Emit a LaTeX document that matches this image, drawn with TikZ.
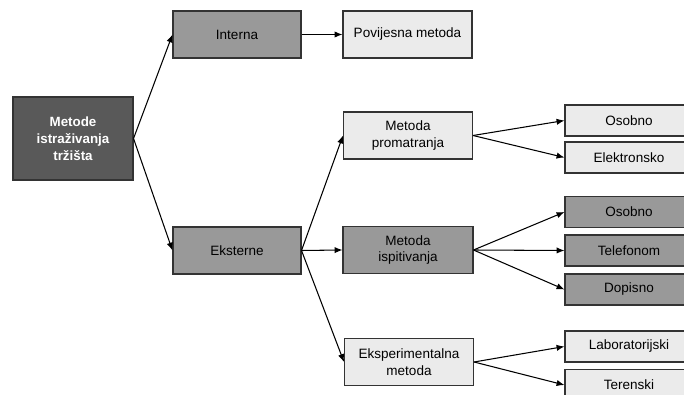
\documentclass[tikz,border=0pt]{standalone}
\usepackage{fontspec}
\setmainfont{Liberation Sans}
\usepackage{tikz}
\usetikzlibrary{arrows.meta}

\definecolor{rootgray}{HTML}{595959}
\definecolor{midgray}{HTML}{999999}
\definecolor{lightgray}{HTML}{EBEBEB}

\tikzset{
  box/.style={draw=black!80, line width=0.6pt, inner sep=0pt, align=center,
    font=\fontsize{7.7}{9.5}\selectfont},
  rootbox/.style={box, fill=rootgray, text=white, font=\fontsize{7.6}{9.6}\selectfont\bfseries,
    minimum width=2.4cm, minimum height=1.66cm},
  midbox/.style={box, fill=midgray, minimum width=2.56cm, minimum height=0.94cm},
  lightbox/.style={box, fill=lightgray, minimum width=2.58cm, minimum height=0.94cm},
  leafmid/.style={box, fill=midgray, minimum width=2.56cm, minimum height=0.62cm},
  leaflight/.style={box, fill=lightgray, minimum width=2.56cm, minimum height=0.62cm},
  link/.style={-{Latex[length=4.5pt,width=3.6pt]}, line width=0.6pt}
}

\begin{document}
\begin{tikzpicture}[x=0.02cm, y=-0.02cm]
	\path[use as bounding box, clip] (0,0) rectangle (684,395);

	\node[rootbox]                 (root) at (73,138.5) {Metode\\istraživanja\\tržišta};
	\node[midbox]                 (int)  at (237,34.5)  {Interna};
	\node[midbox]                 (ext)  at (237,250.5) {Eksterne};

	\node[lightbox]               (pov)  at (407.5,34.5) {Povijesna metoda};
	\node[lightbox]               (prom) at (408,135.5)  {Metoda\\promatranja};
	\node[midbox, minimum width=2.6cm] (isp) at (408,250) {Metoda\\ispitivanja};
	\node[lightbox]               (eksp) at (409,362)    {Eksperimentalna\\metoda};

	\node[leaflight] (osob1) at (629,120.5) {Osobno};
	\node[leaflight] (elek)  at (629,157.5) {Elektronsko};
	\node[leafmid]   (osob2) at (629,212)   {Osobno};
	\node[leafmid]   (tel)   at (629,250.5) {Telefonom};
	\node[leafmid]   (dop)   at (629,289.5) {Dopisno};
	\node[leaflight] (lab)   at (629,346.5) {Laboratorijski};
	\node[leaflight] (ter)   at (629,385)   {Terenski};

	\draw[link] (root.east) -- (int.west);
	\draw[link] (root.east) -- (ext.west);
	\draw[link] (int.east) -- (pov.west);
	\draw[link] (ext.east) -- (prom.west);
	\draw[link] (ext.east) -- (isp.west);
	\draw[link] (ext.east) -- (eksp.west);
	\draw[link] (prom.east) -- (osob1.west);
	\draw[link] (prom.east) -- (elek.west);
	\draw[link] (isp.east) -- (osob2.west);
	\draw[link] (isp.east) -- (tel.west);
	\draw[link] (isp.east) -- (dop.west);
	\draw[link] (eksp.east) -- (lab.west);
	\draw[link] (eksp.east) -- (ter.west);
\end{tikzpicture}
\end{document}
